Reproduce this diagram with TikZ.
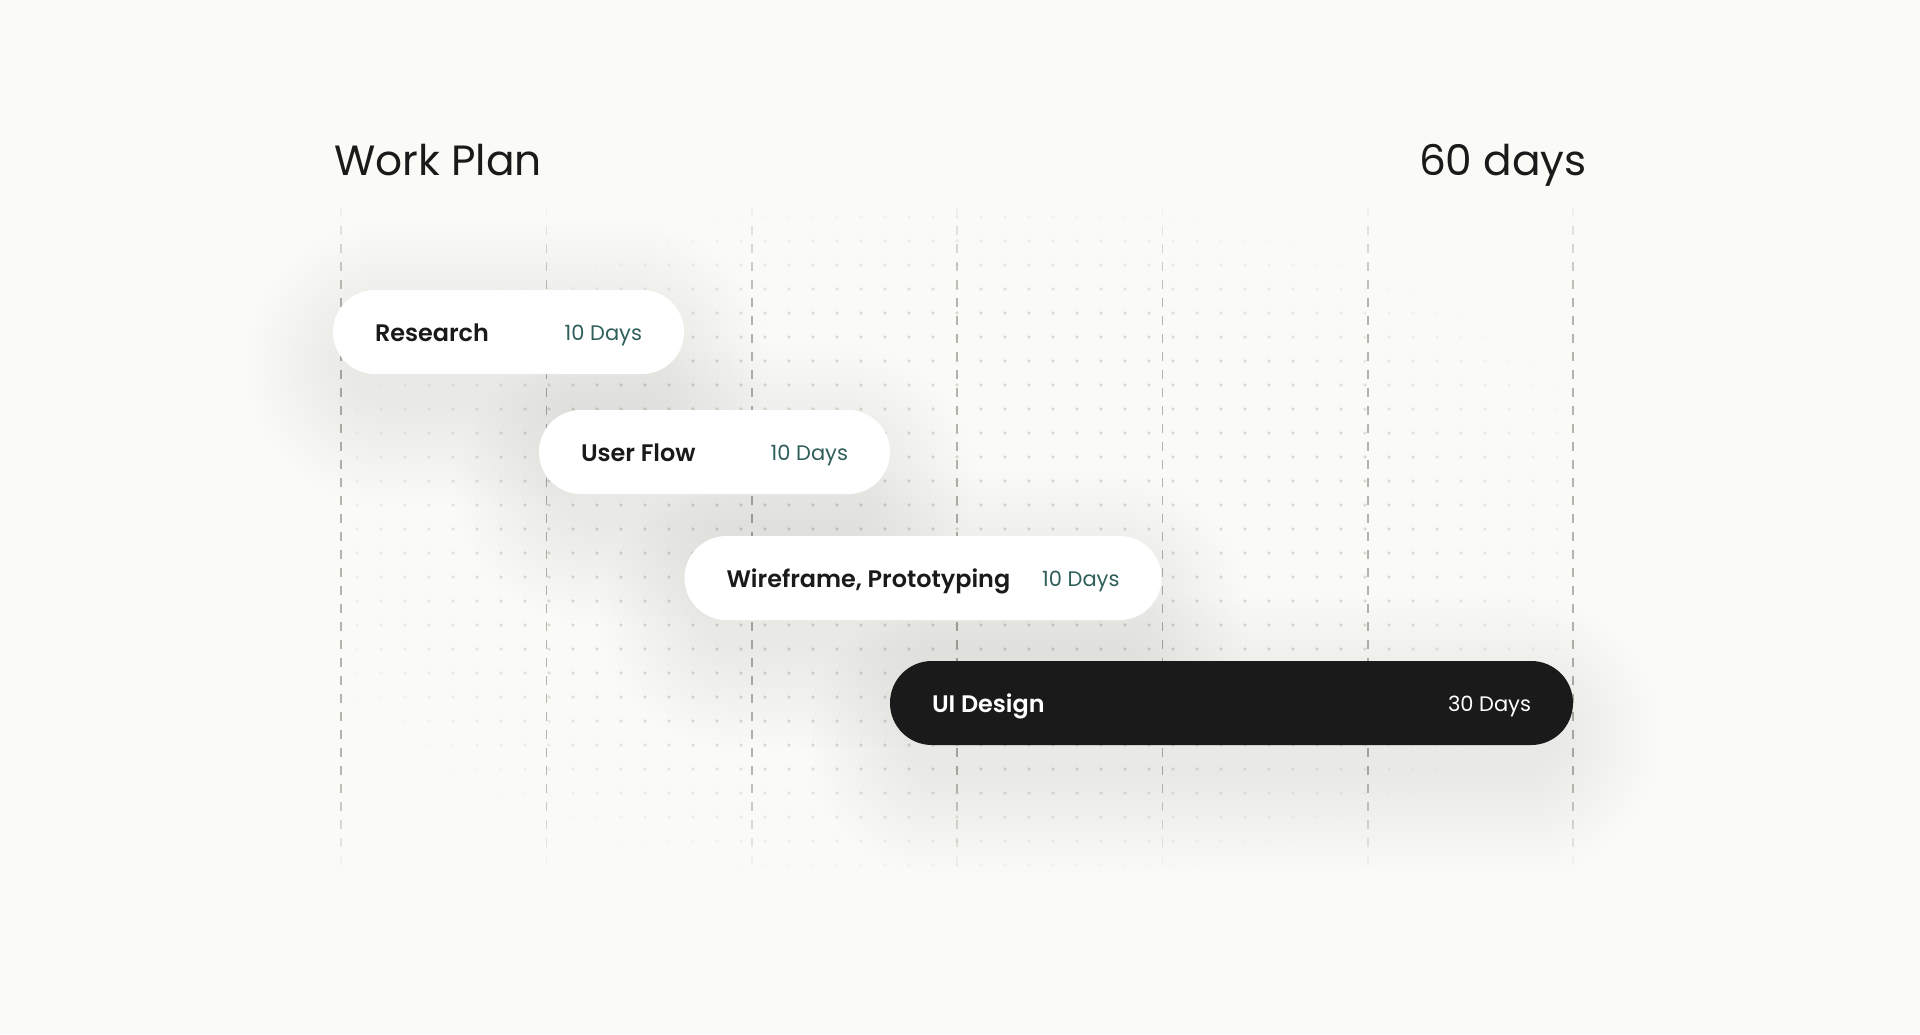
\documentclass[tikz,border=0pt]{standalone}
\usepackage{fontspec}
\setmainfont{Poppins}
\IfFontExistsTF{Poppins SemiBold}{\newfontfamily\semib{Poppins SemiBold}}{\newcommand\semib{\bfseries}}
\definecolor{bg}{HTML}{FAFAF6}
\definecolor{ink}{HTML}{1A1A1A}
\definecolor{tealtxt}{HTML}{2F5F5A}
\definecolor{dashc}{HTML}{B5B3AD}
\definecolor{dotc}{HTML}{DCDBD5}
\colorlet{shadc}{black!45}
\newcommand\pillshadow[3]{% cx, cy, width
  \foreach \s in {0,6,...,96}{
    \pgfmathsetmacro\rc{42+\s}
    \fill[shadc, opacity=0.0079, rounded corners=\rc pt]
      (#1-#3/2-\s+12, #2+32-42-\s) rectangle (#1+#3/2+\s-12, #2+32+42+\s);
  }%
}
\tikzset{
  pillbase/.style={rectangle, rounded corners=41.9pt, minimum height=84pt, inner sep=0pt, draw=none},
  wpill/.style={pillbase, fill=white},
  bpill/.style={pillbase, fill=ink},
  tasklbl/.style={anchor=base west, inner sep=0pt, font=\fontsize{23.9}{29}\semib},
  dayslbl/.style={anchor=base east, inner sep=0pt, font=\fontsize{21}{26}\selectfont},
  titlelbl/.style={inner sep=0pt, text=ink, font=\fontsize{42.3}{50}\selectfont}
}
\begin{document}
\begin{tikzpicture}[x=1pt,y=-1pt]
\fill[bg] (0,0) rectangle (1920,1034);
\useasboundingbox (0,0) rectangle (1920,1034);
% dot grid
\foreach \i in {0,...,50}{
  \foreach \j in {0,...,27}{
    \pgfmathsetmacro\px{357+24*\i}
    \pgfmathsetmacro\py{217+24*\j}
    \pgfmathsetmacro\rr{((\px-957)/660)^2+((\py-540)/340)^2}
    \pgfmathsetmacro\op{max(0,min(1,1.7-1.6*\rr))}
    \fill[dotc, opacity=\op] (\px,\py) circle[radius=1.9];
  }
}
% dashed vertical lines
\foreach \lx in {341,546.3,751.7,957,1162.3,1367.7,1573}{
  \foreach \k in {0,...,36}{
    \pgfmathsetmacro\ya{208+18*\k}
    \pgfmathsetmacro\op{max(0,min(1,1.9-1.9*((\ya+4.5-536)/335)^2))}
    \draw[dashc, line width=1.6pt, opacity=\op] (\lx,\ya) -- (\lx,\ya+9);
  }
}
% titles
\node[titlelbl, anchor=base west] (title) at (334,175) {Work Plan};
\node[titlelbl, anchor=base east] (total) at (1587,175) {60 days};
% shadows
\pillshadow{508.5}{332}{351}
\pillshadow{714.5}{452}{351}
\pillshadow{923}{578}{477}
\pillshadow{1231.5}{703}{683}
% pills
\node[wpill, minimum width=351pt] (research) at (508.5,332) {};
\node[wpill, minimum width=351pt] (userflow) at (714.5,452) {};
\node[wpill, minimum width=477pt] (wireframe) at (923,578) {};
\node[bpill, minimum width=683pt] (uidesign) at (1231.5,703) {};
% labels
\node[tasklbl, text=ink] (researchT) at ([xshift=42pt,yshift=-9.5pt]research.west) {Research};
\node[dayslbl, text=tealtxt] (researchD) at ([xshift=-42pt,yshift=-8pt]research.east) {10 Days};
\node[tasklbl, text=ink] (userflowT) at ([xshift=42pt,yshift=-9.5pt]userflow.west) {User Flow};
\node[dayslbl, text=tealtxt] (userflowD) at ([xshift=-42pt,yshift=-8pt]userflow.east) {10 Days};
\node[tasklbl, text=ink] (wireframeT) at ([xshift=42pt,yshift=-9.5pt]wireframe.west) {Wireframe, Prototyping};
\node[dayslbl, text=tealtxt] (wireframeD) at ([xshift=-42pt,yshift=-8pt]wireframe.east) {10 Days};
\node[tasklbl, text=white] (uidesignT) at ([xshift=42pt,yshift=-9.5pt]uidesign.west) {UI Design};
\node[dayslbl, text=white] (uidesignD) at ([xshift=-42pt,yshift=-8pt]uidesign.east) {30 Days};
\end{tikzpicture}
\end{document}
